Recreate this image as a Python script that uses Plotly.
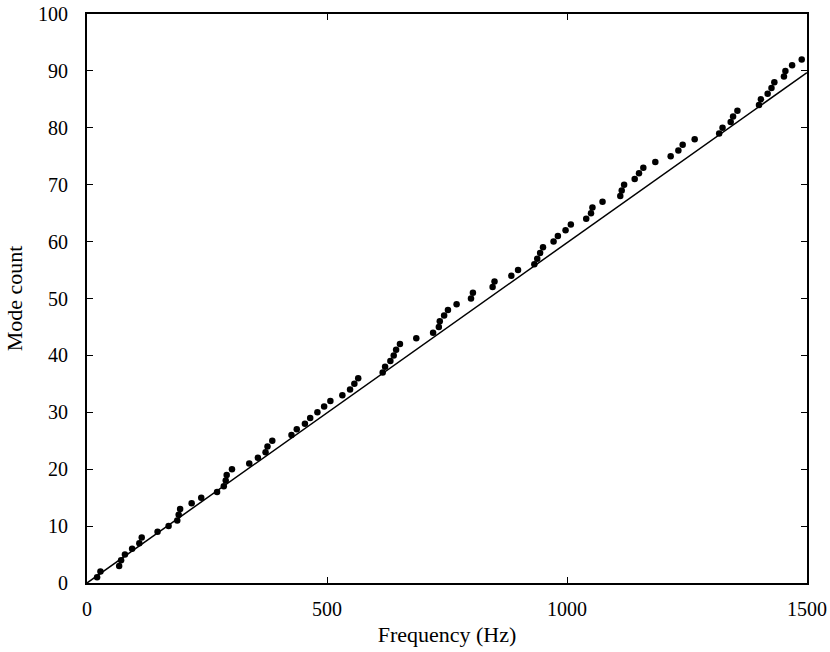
import plotly.graph_objects as go

# Measured mode frequencies (Hz) and the cumulative mode count at each
frequency_hz = [21, 28, 67, 71, 79, 94, 109, 114, 147, 170,
                188, 191, 194, 218, 238, 271, 285, 289, 291, 302,
                338, 356, 372, 376, 386, 426, 437, 454, 465, 480,
                494, 507, 532, 548, 557, 565, 616, 621, 632, 639,
                644, 652, 686, 721, 733, 735, 744, 752, 770, 800,
                804, 845, 849, 884, 898, 932, 938, 944, 950, 972,
                981, 997, 1008, 1040, 1050, 1053, 1074, 1111, 1114, 1119,
                1141, 1150, 1159, 1184, 1216, 1232, 1241, 1266, 1317, 1324,
                1341, 1346, 1355, 1400, 1404, 1418, 1426, 1432, 1452, 1455,
                1469, 1489]
mode_count = list(range(1, len(frequency_hz) + 1))

# Theoretical (asymptotic) mode count line
fit_freq = [0, 1500]
fit_count = [0, 89.7]

x_ticks = [0, 500, 1000, 1500]
y_ticks = [0, 10, 20, 30, 40, 50, 60, 70, 80, 90, 100]

FONT = "Liberation Serif, Times New Roman, serif"

fig = go.Figure()
fig.add_trace(go.Scatter(x=fit_freq, y=fit_count, mode="lines",
                         line=dict(color="black", width=1.5),
                         showlegend=False, hoverinfo="skip"))
fig.add_trace(go.Scatter(x=frequency_hz, y=mode_count, mode="markers",
                         marker=dict(color="black", size=6.5),
                         showlegend=False, cliponaxis=False))

axis_common = dict(showgrid=False, zeroline=False, showline=True,
                   linecolor="black", linewidth=2, mirror="ticks",
                   ticks="inside", ticklen=6, tickwidth=1, tickcolor="black",
                   tickfont=dict(family=FONT, size=20, color="black"))

fig.update_xaxes(range=[0, 1500], tickvals=x_ticks,
                 ticktext=[str(v) for v in x_ticks],
                 title=dict(text="Frequency (Hz)", standoff=8,
                            font=dict(family=FONT, size=22, color="black")),
                 ticklabelstandoff=7,
                 **axis_common)
fig.update_yaxes(range=[0, 100], tickvals=y_ticks,
                 ticktext=[str(v) for v in y_ticks],
                 title=dict(text="Mode count", standoff=9,
                            font=dict(family=FONT, size=22, color="black")),
                 ticklabelstandoff=13,
                 **axis_common)

fig.update_layout(width=830, height=652,
                  margin=dict(l=87, r=23, t=14, b=69, autoexpand=False),
                  paper_bgcolor="white", plot_bgcolor="white",
                  font=dict(family=FONT, size=20, color="black"))

fig.write_html("out.html",
               config={"displayModeBar": False},
               post_script="document.body.style.margin='0';"
                           "document.body.style.overflow='hidden';")
